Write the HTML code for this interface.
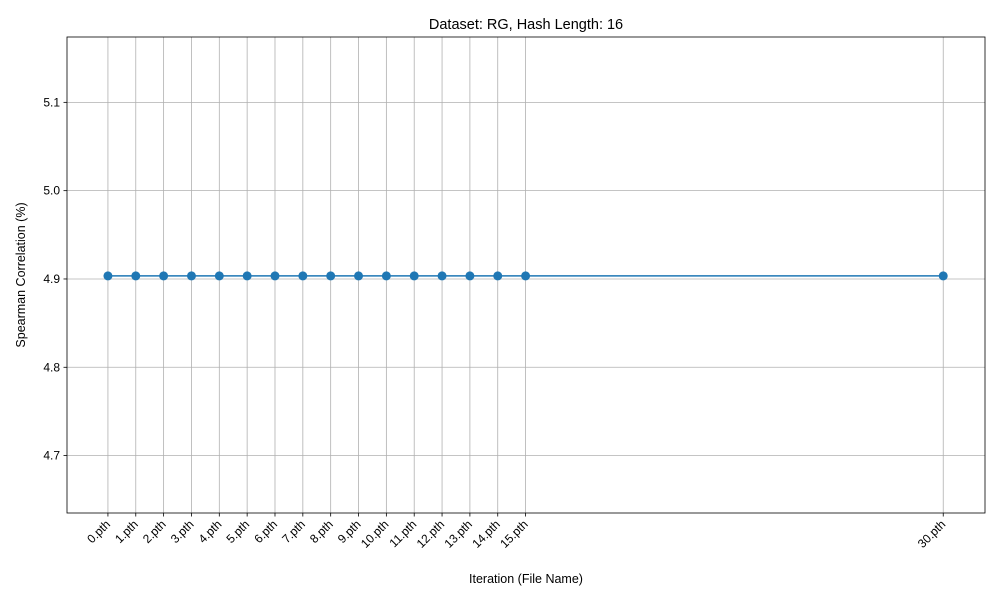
<!DOCTYPE html>
<html><head><meta charset="utf-8"><style>
body{margin:0;background:#fff;}
svg text{font-family:"Liberation Sans","DejaVu Sans",sans-serif;fill:#000;}
</style></head><body>
<svg id="chart" width="1000" height="600"></svg>
<script>
const categories = ["0.pth","1.pth","2.pth","3.pth","4.pth","5.pth","6.pth","7.pth","8.pth","9.pth","10.pth","11.pth","12.pth","13.pth","14.pth","15.pth","30.pth"];
const xPositions = [0,1,2,3,4,5,6,7,8,9,10,11,12,13,14,15,30];
const values = [4.9035,4.9035,4.9035,4.9035,4.9035,4.9035,4.9035,4.9035,4.9035,4.9035,4.9035,4.9035,4.9035,4.9035,4.9035,4.9035,4.9035];
const yTicks = [4.7,4.8,4.9,5.0,5.1];
const yTickLabels = ["4.7","4.8","4.9","5.0","5.1"];

const svg = document.getElementById('chart');
const NS = 'http://www.w3.org/2000/svg';
const L=67,R=985,T=37,B=513;
const xMin=-1.47,xMax=31.5,yMin=4.635,yMax=5.174;
const xs=v=>L+(v-xMin)/(xMax-xMin)*(R-L);
const ys=v=>B-(v-yMin)/(yMax-yMin)*(B-T);
function el(tag,attrs){const e=document.createElementNS(NS,tag);for(const k in attrs)e.setAttribute(k,attrs[k]);svg.appendChild(e);return e;}

// grid
yTicks.forEach((t,i)=>{
  const y=ys(t);
  const g=el('line',{x1:L,x2:R,y1:y,y2:y,stroke:'#b0b0b0','stroke-width':0.8});
  
  
  const tk=el('line',{x1:L-3.5,x2:L,y1:y,y2:y,stroke:'#000','stroke-width':0.8});
  
  
  const tx=el('text',{x:L-7,y:y+4,'text-anchor':'end','font-size':12});
  tx.textContent=yTickLabels[i];
  
  
});
xPositions.forEach((p,i)=>{
  const x=xs(p);
  const g=el('line',{x1:x,x2:x,y1:T,y2:B,stroke:'#b0b0b0','stroke-width':0.8});
  
  
  const tk=el('line',{x1:x,x2:x,y1:B,y2:B+3.5,stroke:'#000','stroke-width':0.8});
  
  
  const tx=el('text',{x:x+3,y:B+12,'text-anchor':'end','font-size':12,transform:`rotate(-45 ${x+3} ${B+12})`});
  tx.textContent=categories[i];
  
  
});
// frame
const fr=el('rect',{x:L,y:T,width:R-L,height:B-T,fill:'none',stroke:'#000','stroke-width':0.8});


// line
const pts=xPositions.map((p,i)=>xs(p)+','+ys(values[i])).join(' ');
const pl=el('polyline',{points:pts,fill:'none',stroke:'#1f77b4','stroke-width':1.5});


xPositions.forEach((p,i)=>{
  const c=el('circle',{cx:xs(p),cy:ys(values[i]),r:4.5,fill:'#1f77b4'});
  
  
});
// titles
const t1=el('text',{x:526,y:29,'text-anchor':'middle','font-size':14.5});
t1.textContent='Dataset: RG, Hash Length: 16';


const t2=el('text',{x:526,y:583,'text-anchor':'middle','font-size':12.5});
t2.textContent='Iteration (File Name)';


const t3=el('text',{x:25,y:275,'text-anchor':'middle','font-size':12.5,transform:'rotate(-90 25 275)'});
t3.textContent='Spearman Correlation (%)';


</script>
</body></html>
